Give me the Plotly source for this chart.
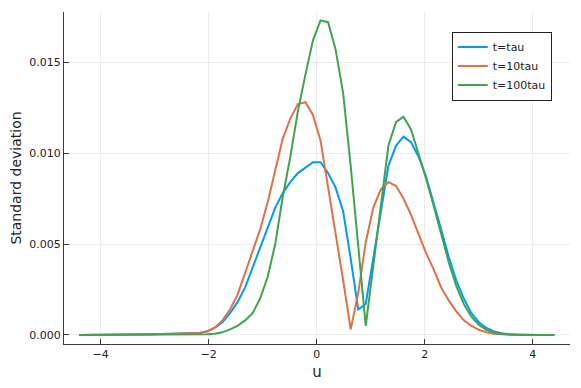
import plotly.graph_objects as go

# grid of u values (64 points from -4.4 to 4.4)
u = [-4.400, -4.260, -4.121, -3.981, -3.841, -3.702, -3.562, -3.422,
     -3.283, -3.143, -3.003, -2.863, -2.724, -2.584, -2.444, -2.305,
     -2.165, -2.025, -1.886, -1.746, -1.606, -1.467, -1.327, -1.187,
     -1.048, -0.908, -0.768, -0.629, -0.489, -0.349, -0.210, -0.070,
     0.070, 0.210, 0.349, 0.489, 0.629, 0.768, 0.908, 1.048,
     1.187, 1.327, 1.467, 1.606, 1.746, 1.886, 2.025, 2.165,
     2.305, 2.444, 2.584, 2.724, 2.863, 3.003, 3.143, 3.283,
     3.422, 3.562, 3.702, 3.841, 3.981, 4.121, 4.260, 4.400]

sd_tau = [0, 0, 0, 0, 0, 0, 0, 0.00001,
          0.00002, 0.00003, 0.00004, 0.00005, 0.00006, 0.00006, 0.00006, 0.00006,
          0.0001, 0.0002, 0.0004, 0.0007, 0.0012, 0.0018, 0.0026, 0.0037,
          0.0048, 0.0059, 0.0070, 0.0078, 0.0084, 0.0089, 0.0092, 0.0095,
          0.0095, 0.0089, 0.0081, 0.0068, 0.0042, 0.0014, 0.0017, 0.0043,
          0.0069, 0.0093, 0.0104, 0.0109, 0.0106, 0.0098, 0.0087, 0.0073,
          0.0058, 0.0043, 0.0030, 0.0020, 0.0012, 0.0007, 0.00038, 0.00019,
          0.00009, 0.00004, 0.00002, 0.00001, 0, 0, 0, 0]

sd_10tau = [0, 0, 0, 0, 0, 0, 0, 0.00001,
            0.00002, 0.00003, 0.00004, 0.00005, 0.00006, 0.00007, 0.00008, 0.00009,
            0.0001, 0.0002, 0.0004, 0.0008, 0.0014, 0.0022, 0.0034, 0.0045,
            0.0058, 0.0073, 0.0091, 0.0108, 0.0119, 0.0127, 0.0128, 0.0121,
            0.0107, 0.0082, 0.0057, 0.0030, 0.0003, 0.0023, 0.0051, 0.0070,
            0.0080, 0.0084, 0.0082, 0.0075, 0.0066, 0.0055, 0.0045, 0.0036,
            0.0026, 0.0019, 0.0013, 0.0008, 0.0005, 0.00028, 0.00015, 0.00007,
            0.00003, 0.00001, 0, 0, 0, 0, 0, 0]

sd_100tau = [0, 0, 0, 0, 0, 0, 0, 0,
             0, 0, 0, 0, 0, 0, 0, 0,
             0.00001, 0.00003, 0.00007, 0.00014, 0.0003, 0.0005, 0.0008, 0.0012,
             0.0020, 0.0032, 0.0050, 0.0076, 0.0098, 0.0123, 0.0143, 0.0162,
             0.0173, 0.0172, 0.0157, 0.0133, 0.0093, 0.0050, 0.0005, 0.0038,
             0.0071, 0.0104, 0.0117, 0.0120, 0.0113, 0.0100, 0.0086, 0.0071,
             0.0055, 0.0040, 0.0027, 0.0017, 0.0010, 0.00055, 0.00028, 0.00013,
             0.00006, 0.00002, 0.00001, 0, 0, 0, 0, 0]

names = ["t=tau", "t=10tau", "t=100tau"]
colors = ["#009afa", "#e36f47", "#3ea44e"]

fig = go.Figure()
for ys, name, c in zip([sd_tau, sd_10tau, sd_100tau], names, colors):
    fig.add_trace(go.Scatter(x=u, y=ys, mode="lines", name=name,
                             line=dict(color=c, width=2)))

axis_style = dict(showline=True, linecolor="#3a3a3a", linewidth=1,
                  ticks="inside", ticklen=5, tickcolor="#3a3a3a",
                  showgrid=True, gridcolor="#ececec", gridwidth=1,
                  zeroline=False, mirror=False, automargin=False,
                  tickfont=dict(size=11, color="#222222"))

# page body adds an 8px offset, so margins are shifted to compensate
fig.update_layout(
    width=581, height=388,
    margin=dict(l=56, r=19, t=4, b=52),
    plot_bgcolor="white", paper_bgcolor="white",
    font=dict(family="DejaVu Sans", color="#222222"),
    xaxis=dict(range=[-4.68, 4.69], tickvals=[-4, -2, 0, 2, 4],
               title=dict(text="u", font=dict(size=15), standoff=6),
               **axis_style),
    yaxis=dict(range=[-0.0005, 0.01776], tickvals=[0, 0.005, 0.01, 0.015],
               tickformat=".3f",
               title=dict(text="Standard deviation", font=dict(size=14), standoff=4),
               **axis_style),
    legend=dict(x=0.964, y=0.941, xanchor="right", yanchor="top",
                bordercolor="#222222", borderwidth=1, bgcolor="white",
                font=dict(size=11), tracegroupgap=0),
    showlegend=True,
)

fig.write_html("out.html")
